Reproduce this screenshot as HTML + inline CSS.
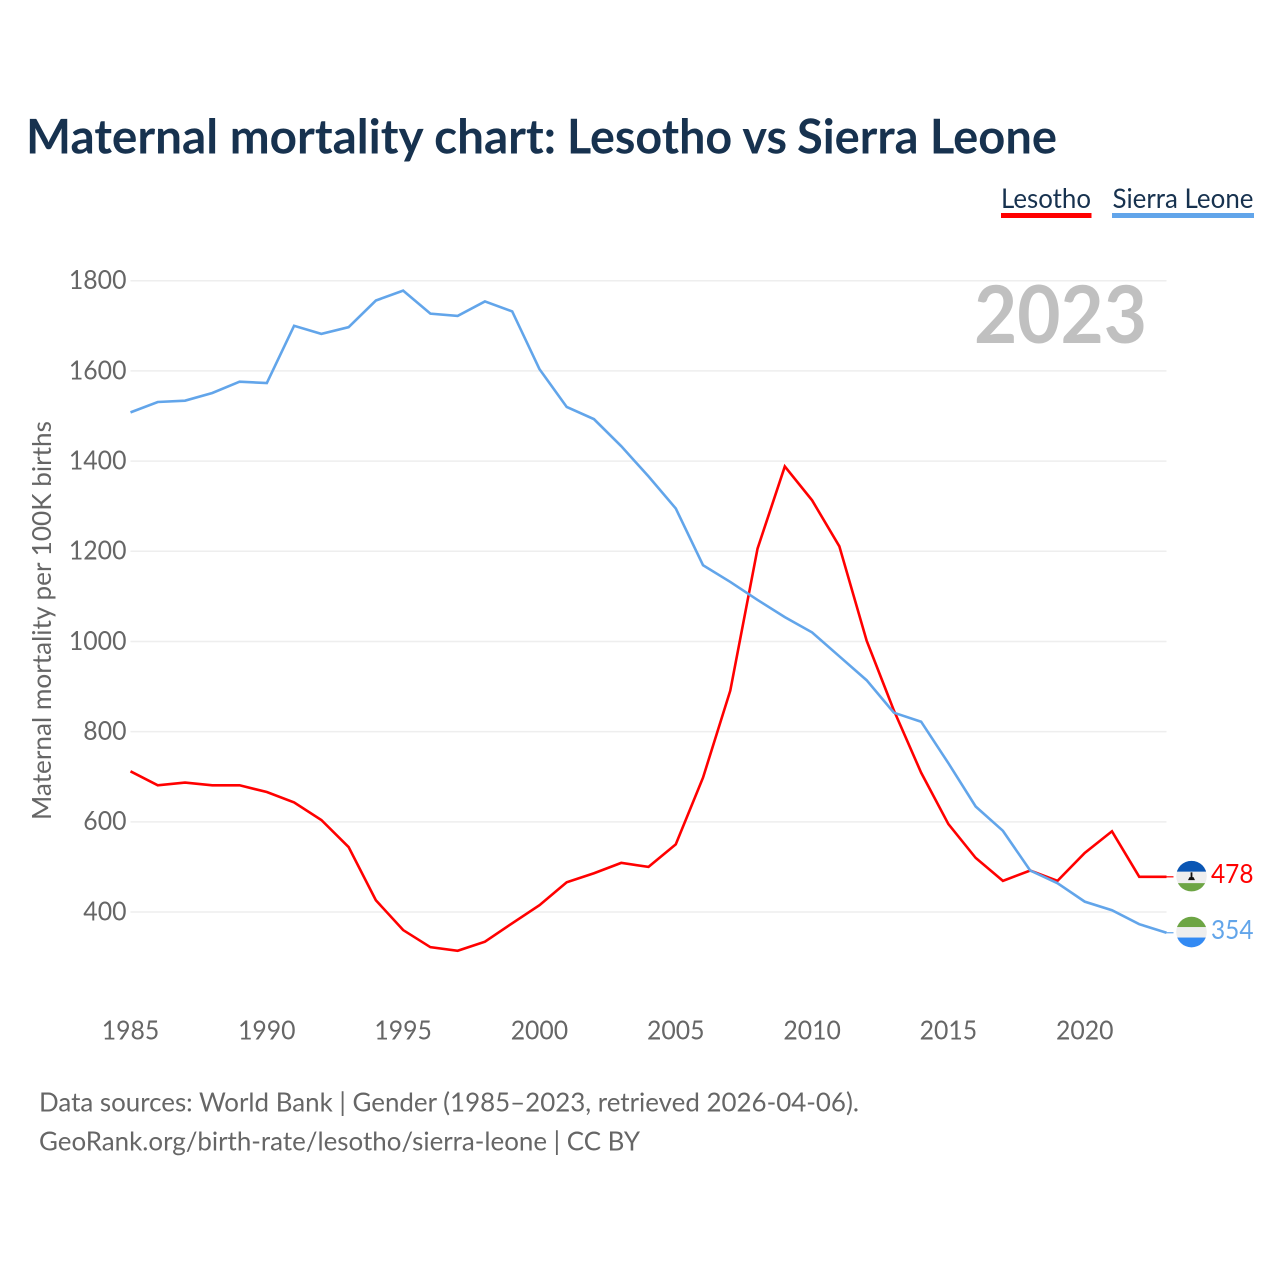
<!DOCTYPE html>
<html lang="en">
<head>
<meta charset="utf-8">
<title>Maternal mortality chart: Lesotho vs Sierra Leone</title>
<style>
html,body{margin:0;padding:0;background:#fff;width:1280px;height:1280px;overflow:hidden}
svg{display:block}
text{font-family:"Lato","Carlito","Liberation Sans",sans-serif}
</style>
</head>
<body>
<svg id="chart" xmlns="http://www.w3.org/2000/svg" width="1280" height="1280" viewBox="0 0 1280 1280">
  <defs>
    <clipPath id="flag-clip"><circle cx="0" cy="0" r="15.300"/></clipPath>
  </defs>
  <rect x="0" y="0" width="1280" height="1280" fill="#fff"/>
  <text y="153.500" font-size="48" font-weight="700" fill="#17324f"><tspan x="26" textLength="530" lengthAdjust="spacingAndGlyphs">Maternal mortality chart:</tspan> <tspan x="567" textLength="220" lengthAdjust="spacingAndGlyphs">Lesotho vs</tspan> <tspan x="797" textLength="260" lengthAdjust="spacingAndGlyphs">Sierra Leone</tspan></text>

  <g>
    <g>
      <text x="1001" y="208" font-size="27" fill="#17324f" textLength="90" lengthAdjust="spacingAndGlyphs">Lesotho</text>
      <rect x="1001" y="213" width="90.500" height="5" fill="#ff0000"/>
    </g>
    <g>
      <text x="1112.500" y="208" font-size="27" fill="#17324f" textLength="141" lengthAdjust="spacingAndGlyphs">Sierra Leone</text>
      <rect x="1112" y="213" width="142" height="5" fill="#62a5ea"/>
    </g>
  </g>

  <g id="grid"></g>
  <text x="974" y="343" font-size="80" font-weight="700" fill="#c0c0c0" textLength="173" lengthAdjust="spacingAndGlyphs">2023</text>
  <g id="y-ticks"></g>
  <g id="x-ticks"></g>
  <text transform="translate(51 620.500) rotate(-90)" text-anchor="middle" font-size="26" fill="#666666" textLength="399" lengthAdjust="spacingAndGlyphs">Maternal mortality per 100K births</text>

  <g id="series"></g>

  <g id="flag-lesotho">
    <g clip-path="url(#flag-clip)">
      <rect x="-16" y="-16" width="32" height="32" fill="#eeeeee"/>
      <rect x="-16" y="-16" width="32" height="11.500" fill="#0a56b4"/>
      <rect x="-16" y="7" width="32" height="9" fill="#6da544"/>
      <rect x="-0.900" y="-3.800" width="1.800" height="6" fill="#111"/>
      <path d="M-3.500 4 L3.500 4 L2 1 L-2 1 Z" fill="#111"/>
    </g>
  </g>
  <g id="flag-sierra-leone">
    <g clip-path="url(#flag-clip)">
      <rect x="-16" y="-16" width="32" height="32" fill="#eeeeee"/>
      <rect x="-16" y="-16" width="32" height="11" fill="#6da544"/>
      <rect x="-16" y="5.500" width="32" height="11" fill="#338af3"/>
    </g>
  </g>
  <text id="value-lesotho" x="1211" font-size="26.500" fill="#ff0000" textLength="42.500" lengthAdjust="spacingAndGlyphs"></text>
  <text id="value-sierra-leone" x="1211" font-size="26.500" fill="#62a5ea" textLength="42.500" lengthAdjust="spacingAndGlyphs"></text>

  <text x="39" y="1111.500" font-size="26" fill="#666666" textLength="820" lengthAdjust="spacingAndGlyphs">Data sources: World Bank | Gender (1985–2023, retrieved 2026-04-06).</text>
  <text x="39" y="1150.500" font-size="26" fill="#666666" textLength="601" lengthAdjust="spacingAndGlyphs">GeoRank.org/birth-rate/lesotho/sierra-leone | CC BY</text>
</svg>
<script>
const years = [1985,1986,1987,1988,1989,1990,1991,1992,1993,1994,1995,1996,1997,1998,1999,2000,2001,2002,2003,2004,2005,2006,2007,2008,2009,2010,2011,2012,2013,2014,2015,2016,2017,2018,2019,2020,2021,2022,2023];
const lesotho = [712,681,687,681,681,666,643,604,544,426,360,322,314,334,375,415,466,486,509,500,550,698,891,1206,1388,1313,1211,1002,847,709,595,520,469,492,469,531,579,478,478];
const sierraLeone = [1508,1531,1534,1551,1576,1573,1700,1682,1697,1756,1778,1727,1722,1754,1732,1604,1520,1493,1433,1366,1295,1169,1132,1092,1054,1020,967,914,842,822,730,634,580,492,464,423,404,373,354];
const yTickValues = [400,600,800,1000,1200,1400,1600,1800];
const xTickValues = [1985,1990,1995,2000,2005,2010,2015,2020];

const SVGNS = 'http://www.w3.org/2000/svg';
function xScale(year){ return 130.5 + (year - 1985) * (1166.5 - 130.5) / (2023 - 1985); }
function yScale(value){ return 912 - (value - 400) * (912 - 280.7) / (1800 - 400); }
function make(tag, attrs, parent){
  const el = document.createElementNS(SVGNS, tag);
  for (const k in attrs) el.setAttribute(k, attrs[k]);
  parent.appendChild(el);
  return el;
}

const grid = document.getElementById('grid');
const yTicks = document.getElementById('y-ticks');
yTickValues.forEach(function(v){
  const line = make('line', {x1:130.5, x2:1166.5, y1:yScale(v), y2:yScale(v), stroke:'#eeeeee', 'stroke-width':1.5}, grid);
  
  
  const label = make('text', {x:126.5, y:yScale(v) + 8.4, 'text-anchor':'end', 'font-size':26, fill:'#666666', textLength:String(v).length * 14.4, lengthAdjust:'spacingAndGlyphs'}, yTicks);
  
  
  label.textContent = v;
});

const xTicks = document.getElementById('x-ticks');
xTickValues.forEach(function(y){
  const label = make('text', {x:xScale(y), y:1039.7, 'text-anchor':'middle', 'font-size':26, fill:'#666666', textLength:57.5, lengthAdjust:'spacingAndGlyphs'}, xTicks);
  
  
  label.textContent = y;
});

const seriesGroup = document.getElementById('series');
function drawSeries(values, color, key, flagId, valueId){
  const pts = values.map(function(v, i){ return xScale(years[i]).toFixed(2) + ',' + yScale(v).toFixed(2); }).join(' ');
  const line = make('polyline', {points:pts, fill:'none', stroke:color, 'stroke-width':2.6, 'stroke-linejoin':'miter'}, seriesGroup);
  
  
  const last = values[values.length - 1];
  const lx = xScale(years[years.length - 1]);
  const ly = yScale(last);
  const leader = make('line', {x1:lx, x2:lx + 7, y1:ly, y2:ly, stroke:color, 'stroke-width':1.2}, seriesGroup);
  
  
  document.getElementById(flagId).setAttribute('transform', 'translate(1191.5 ' + (ly - 0.7).toFixed(2) + ')');
  const val = document.getElementById(valueId);
  val.setAttribute('y', (ly + 6.3).toFixed(2));
  val.textContent = last;
}
drawSeries(lesotho, '#ff0000', 'lesotho', 'flag-lesotho', 'value-lesotho');
drawSeries(sierraLeone, '#62a5ea', 'sierra-leone', 'flag-sierra-leone', 'value-sierra-leone');
</script>
</body>
</html>
